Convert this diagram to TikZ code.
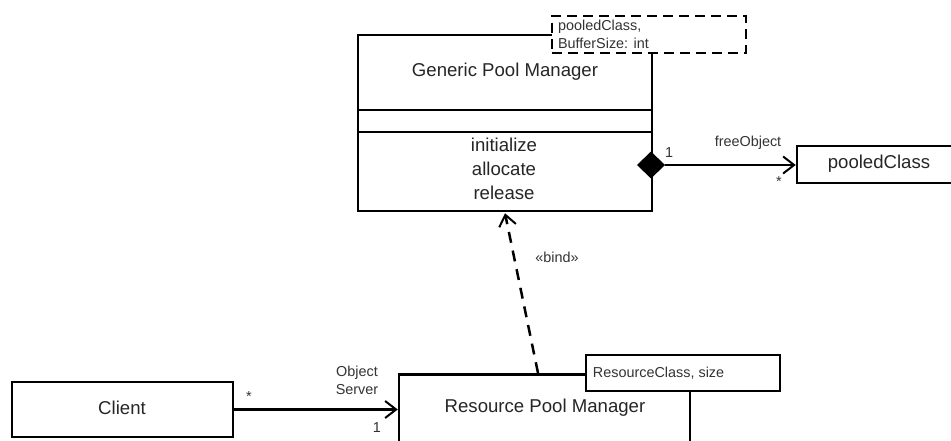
\documentclass[tikz,border=0pt]{standalone}
\usepackage{fontspec}
\setmainfont{Liberation Sans}
\usetikzlibrary{arrows.meta,shapes.geometric,calc}
\tikzset{
  box/.style={draw=black, line width=2.5pt, fill=white, rectangle, inner sep=0pt},
  tplbox/.style={draw=black, line width=2.3pt, fill=white, rectangle, inner sep=0pt, dash pattern=on 10pt off 6pt},
  big/.style={font=\fontsize{18.6}{24}\selectfont, inner sep=0pt, text=black!85},
  small/.style={font=\fontsize{14.4}{18}\selectfont, inner sep=0pt, text=black!80},
  conn/.style={line width=2.5pt},
  openhead/.style={-{Straight Barb[length=11pt,width=17pt,line width=2pt]}},
}
\begin{document}
\begin{tikzpicture}[x=1pt,y=-1pt]
\clip (0,0) rectangle (951,441);
\fill[white] (0,0) rectangle (951,441);
% Generic Pool Manager class
\node[box, minimum width=294pt, minimum height=176pt] (gpm) at (505,123) {};
\draw[line width=2.5pt] (gpm.west |- 0,110) -- (gpm.east |- 0,110);
\draw[line width=2.5pt] (gpm.west |- 0,132) -- (gpm.east |- 0,132);
\node[big] (gpmname) at (505,72) {Generic Pool Manager};
\node[big, align=center] (gpmops) at (504,169) {initialize\\allocate\\release};
% template parameters
\node[tplbox, minimum width=194pt, minimum height=37pt] (tpl) at (649,34.5) {};
\node[small, anchor=west, align=left] (tpltext) at ($(tpl.west)+(7,0)$) {pooledClass,\\BufferSize: int};
% pooledClass
\node[box, minimum width=164pt, minimum height=37pt] (pc) at (879,164.5) {};
\node[big] (pcname) at (879,164) {pooledClass};
% composition
\node[diamond, fill=black, draw=black, line width=1pt, minimum width=27pt, minimum height=26pt, inner sep=0pt] (dia) at (651,165) {};
\draw[conn, openhead] (dia.east) -- (dia.east -| pc.west);
\node[small] (one1) at (669,153) {1};
\node[small] (fo) at (748,143) {freeObject};
\node[small] (star1) at (779,182) {*};
% Client
\node[box, minimum width=221pt, minimum height=55pt] (client) at (122.5,409.5) {};
\node[big] (clientname) at (122,408) {Client};
% Resource Pool Manager
\node[box, anchor=north, minimum width=291pt, minimum height=120pt] (rpm) at (544.5,373) {};
\node[big] (rpmname) at (545,408) {Resource Pool Manager};
\node[box, minimum width=194pt, minimum height=36pt] (rtpl) at (683,373) {};
\node[small, anchor=west] (rtpltext) at ($(rtpl.west)+(8,0)$) {ResourceClass, size};
% association client -> rpm
\coordinate (cend) at (client.east);
\draw[conn, openhead] (cend) -- (cend -| rpm.west);
\node[small] (star2) at (249,397) {*};
\node[small, align=center] (objsrv) at (357,380) {Object\\Server};
\node[small] (one2) at (377,428) {1};
% bind dependency
\draw[conn, dash pattern=on 11pt off 8pt, openhead] ($(rpm.north)+(-6.5,0)$) -- ($(gpm.south)+(0,1)$);
\node[small] (bind) at (557,257) {«bind»};
\end{tikzpicture}
\end{document}
